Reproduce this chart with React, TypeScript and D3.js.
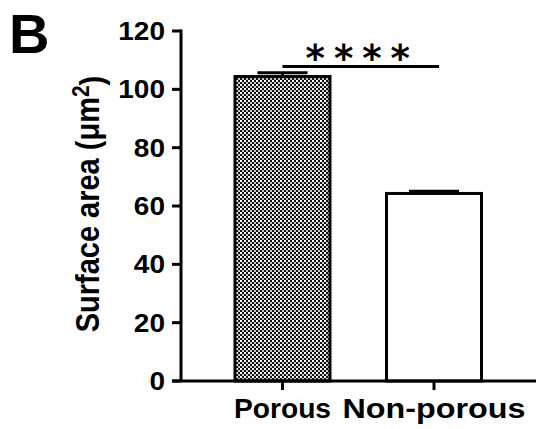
import React, { useEffect, useRef } from 'react'
import * as d3 from 'd3'

const categories = ['Porous', 'Non-porous']
const means = [104.4, 64.3]
const sems = [1.3, 0.8]
const yTicks = [0, 20, 40, 60, 80, 100, 120]
const sigLabel = '****'
const sigValue = 107.8

const W = 536
const H = 429

const App = () => {
  const ref = useRef<SVGSVGElement>(null)

  useEffect(() => {
    draw()
  })

  const draw = () => {
    const svg = d3.select(ref.current)
    svg.selectAll('*').remove()

    const axisX = 181
    const y = d3.scaleLinear().domain([0, 120]).range([381, 31])
    const x = d3.scalePoint<string>().domain(categories).range([282.5, 434])
    const barHalf = 47.5
    const font = 'Liberation Sans, Arial, sans-serif'

    // checker pattern for the porous bar
    const defs = svg.append('defs')
    const pat = defs
      .append('pattern')
      .attr('id', 'checker')
      .attr('patternUnits', 'userSpaceOnUse')
      .attr('width', 4)
      .attr('height', 4)
    pat.append('rect').attr('width', 4).attr('height', 4).attr('fill', '#111')
    pat.append('rect').attr('width', 2).attr('height', 2).attr('fill', '#fff')
    pat.append('rect').attr('x', 2).attr('y', 2).attr('width', 2).attr('height', 2).attr('fill', '#c8c8c8')

    // bars
    svg
      .append('g')
      .selectAll('rect')
      .data(categories)
      .enter()
      .append('rect')
      .attr('x', (d) => (x(d) as number) - barHalf)
      .attr('width', barHalf * 2)
      .attr('y', (d, i) => y(means[i]))
      .attr('height', (d, i) => y(0) - y(means[i]))
      .attr('fill', (d, i) => (i === 0 ? 'url(#checker)' : '#fff'))
      .attr('stroke', '#000')
      .attr('stroke-width', 3)

    // error bars (upper only)
    const eb = svg.append('g').attr('stroke', '#000').attr('stroke-width', 3)
    categories.forEach((c, i) => {
      const cx = x(c) as number
      eb.append('line')
        .attr('x1', cx).attr('x2', cx)
        .attr('y1', y(means[i])).attr('y2', y(means[i] + sems[i]))
      eb.append('line')
        .attr('x1', cx - 25).attr('x2', cx + 25)
        .attr('y1', y(means[i] + sems[i])).attr('y2', y(means[i] + sems[i]))
    })

    // y axis
    const ax = svg.append('g').attr('stroke', '#000').attr('stroke-width', 3)
    ax.append('line').attr('x1', axisX).attr('x2', axisX).attr('y1', y(120) - 1.5).attr('y2', y(0))
    yTicks.forEach((t) => {
      ax.append('line').attr('x1', axisX - 9).attr('x2', axisX).attr('y1', y(t)).attr('y2', y(t))
      svg
        .append('text')
        .attr('transform', `translate(165,${y(t)}) scale(1.12,1)`)
        .attr('dy', '0.36em')
        .attr('text-anchor', 'end')
        .attr('font-family', font)
        .attr('font-weight', 'bold')
        .attr('font-size', 25)
        .text(t)
    })

    // x axis
    const labelWidths = [97, 183]
    ax.append('line').attr('x1', axisX - 9).attr('x2', W).attr('y1', y(0)).attr('y2', y(0))
    categories.forEach((c, i) => {
      const cx = x(c) as number
      ax.append('line').attr('x1', cx).attr('x2', cx).attr('y1', y(0)).attr('y2', y(0) + 9)
      svg
        .append('text')
        .attr('x', cx)
        .attr('y', 418)
        .attr('text-anchor', 'middle')
        .attr('font-family', font)
        .attr('font-weight', 'bold')
        .attr('font-size', 28)
        .attr('textLength', labelWidths[i])
        .attr('lengthAdjust', 'spacingAndGlyphs')
        .text(c)
    })

    // y label
    const yl = svg
      .append('text')
      .attr('transform', `translate(99,204) scale(1.12,1) rotate(-90)`)
      .attr('text-anchor', 'middle')
      .attr('font-family', font)
      .attr('font-weight', 'bold')
      .attr('font-size', 29)
    yl.append('tspan').text('Surface area (\u03bcm')
    yl.append('tspan').attr('dy', '-0.42em').attr('font-size', 21).text('2')
    yl.append('tspan').attr('dy', '0.42em').text(')')

    // significance
    svg
      .append('line')
      .attr('x1', x(categories[0]) as number)
      .attr('x2', (x(categories[1]) as number) + 5)
      .attr('y1', y(sigValue))
      .attr('y2', y(sigValue))
      .attr('stroke', '#000')
      .attr('stroke-width', 3)
    svg
      .append('text')
      .attr('x', ((x(categories[0]) as number) + (x(categories[1]) as number)) / 2 + 4)
      .attr('y', 71)
      .attr('text-anchor', 'middle')
      .attr('font-family', 'DejaVu Sans, sans-serif')
      .attr('font-weight', 'bold')
      .attr('font-size', 37)
      .attr('letter-spacing', 9)
      .text(sigLabel)

    // panel letter
    svg
      .append('text')
      .attr('x', 9)
      .attr('y', 53)
      .attr('font-family', font)
      .attr('font-weight', 'bold')
      .attr('font-size', 56)
      .text('B')
  }

  return (
    <svg
      ref={ref}
      width={W}
      height={H}
      style={{ position: 'absolute', left: 0, top: 0, background: '#fff' }}
    />
  )
}

export default App
